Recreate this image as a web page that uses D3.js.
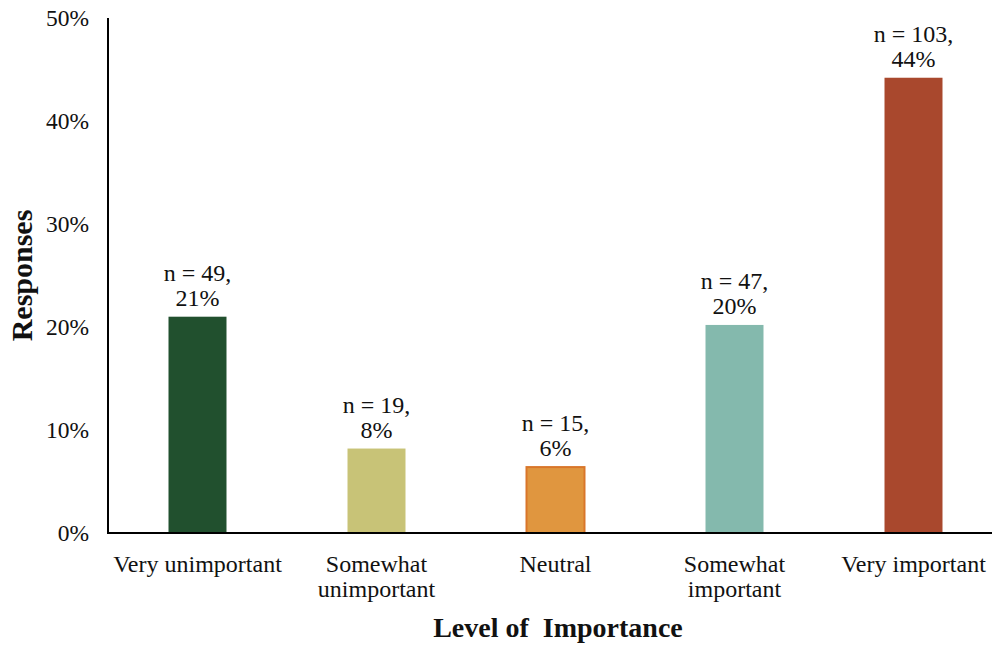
<!DOCTYPE html>
<html>
<head>
<meta charset="utf-8">
<script src="https://cdn.jsdelivr.net/npm/d3@7"></script>
<style>
  html, body { margin: 0; padding: 0; background: #fff; }
  svg { display: block; }
  svg text { font-family: "Liberation Serif", "Times New Roman", serif; fill: #111; }
</style>
</head>
<body>
<svg id="chart" width="992" height="647"></svg>
<script>
// Survey responses by level of importance
const categories = [["Very unimportant"], ["Somewhat", "unimportant"], ["Neutral"], ["Somewhat", "important"], ["Very important"]];
const counts = [49, 19, 15, 47, 103];
const percents = [21.0, 8.2, 6.4, 20.2, 44.2];
const pctLabels = ["21%", "8%", "6%", "20%", "44%"];
const yTicks = [0, 10, 20, 30, 40, 50];
const fills = ["#21502e", "#c8c377", "#e0963f", "#84b9ad", "#a9482d"];
const strokes = ["none", "none", "#d9762a", "none", "none"];

const svg = d3.select("#chart");
const plotL = 108, plotR = 1003, plotT = 18, plotB = 533;
const serif = '"Liberation Serif", "Times New Roman", serif';

const x = d3.scaleBand()
  .domain(d3.range(categories.length))
  .range([plotL, plotR])
  .paddingInner(0.676)
  .paddingOuter(0.338);

const y = d3.scaleLinear().domain([0, 50]).range([plotB, plotT]);

// Bars
svg.selectAll("rect.bar")
  .data(percents)
  .join("rect")
  .attr("class", "bar")
  .attr("x", (d, i) => x(i))
  .attr("width", x.bandwidth())
  .attr("y", d => y(d))
  .attr("height", d => y(0) - y(d))
  .attr("fill", (d, i) => fills[i])
  .attr("stroke", (d, i) => strokes[i])
  .attr("stroke-width", 2);

// Data labels: count and share
const lbl = svg.selectAll("g.lbl")
  .data(percents)
  .join("g")
  .attr("class", "lbl")
  .attr("transform", (d, i) => `translate(${x(i) + x.bandwidth() / 2},${y(d)})`);
lbl.append("text")
  .attr("text-anchor", "middle")
  .attr("y", -36)
  .style("font-size", "24px")
  .text((d, i) => `n = ${counts[i]},`);
lbl.append("text")
  .attr("text-anchor", "middle")
  .attr("y", -11)
  .style("font-size", "24px")
  .text((d, i) => pctLabels[i]);

// Y axis
const yAxis = d3.axisLeft(y)
  .tickValues(yTicks)
  .tickFormat(d => d + "%")
  .tickSize(0)
  .tickPadding(19);
const gy = svg.append("g").attr("transform", `translate(${plotL},0)`).call(yAxis);
gy.select(".domain").remove();
gy.selectAll("text")
  .style("font-family", serif)
  .style("font-size", "23.5px")
  .style("fill", "#111");

svg.append("line")
  .attr("x1", plotL).attr("x2", plotL)
  .attr("y1", plotT).attr("y2", plotB + 1)
  .attr("stroke", "#000").attr("stroke-width", 2);

// X axis
const xAxis = d3.axisBottom(x).tickSize(0).tickFormat("");
const gx = svg.append("g").attr("transform", `translate(0,${plotB})`).call(xAxis);
gx.select(".domain").remove();
svg.append("line")
  .attr("x1", plotL - 1).attr("x2", 992)
  .attr("y1", plotB).attr("y2", plotB)
  .attr("stroke", "#000").attr("stroke-width", 2);

const catText = svg.selectAll("text.cat")
  .data(categories)
  .join("text")
  .attr("class", "cat")
  .attr("text-anchor", "middle")
  .style("font-size", "24px")
  .attr("x", (d, i) => x(i) + x.bandwidth() / 2)
  .attr("y", plotB + 39);
catText.selectAll("tspan")
  .data(d => d)
  .join("tspan")
  .attr("x", function () { return this.parentNode.getAttribute("x"); })
  .attr("dy", (d, j) => j === 0 ? 0 : 25)
  .text(d => d);

// Axis titles
svg.append("text")
  .attr("x", 558).attr("y", 637)
  .attr("text-anchor", "middle")
  .style("font-size", "28px").style("font-weight", "bold")
  .style("white-space", "pre")
  .text("Level of  Importance");

svg.append("text")
  .attr("transform", `translate(32,${(plotT + plotB) / 2}) rotate(-90)`)
  .attr("text-anchor", "middle")
  .style("font-size", "30px").style("font-weight", "bold")
  .text("Responses");
</script>
</body>
</html>
